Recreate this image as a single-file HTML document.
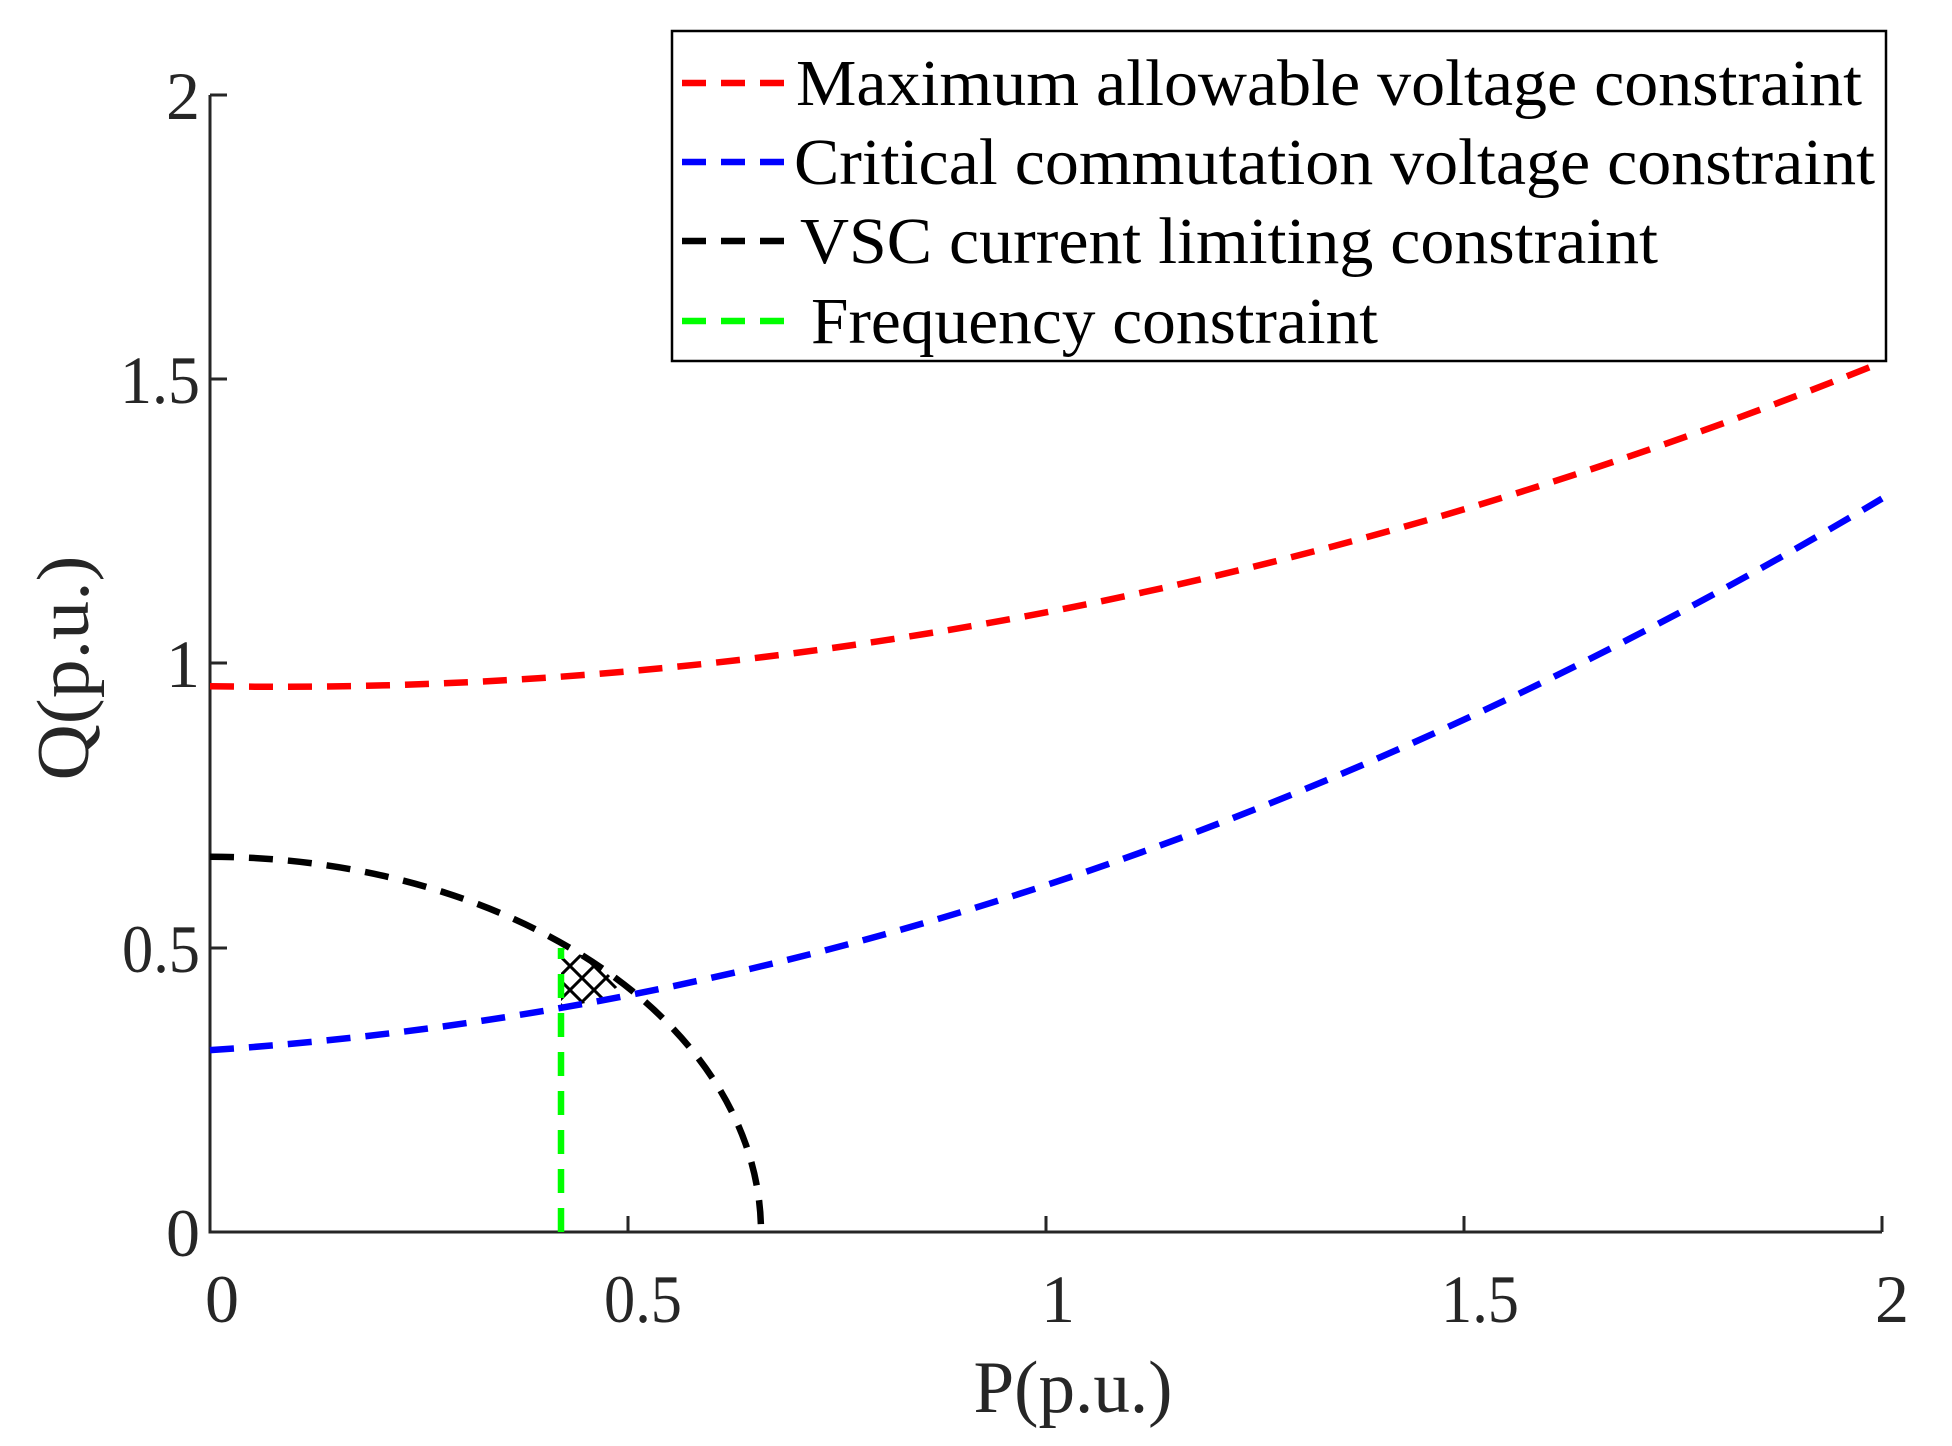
<!DOCTYPE html>
<html><head><meta charset="utf-8"><style>
html,body{margin:0;padding:0;background:#fff;}
svg{display:block;}
text{font-family:"Liberation Serif",serif;}
</style></head><body>
<svg width="1952" height="1446" viewBox="0 0 1952 1446" xmlns="http://www.w3.org/2000/svg">
<defs>
<clipPath id="hc"><polygon points="561,948 590,958 620,985 600,1000 561,1008"/></clipPath>
</defs>
<rect width="1952" height="1446" fill="#fff"/>
<g stroke="#262626" stroke-width="3" fill="none">
<path d="M210,95 V1232 H1882"/>
<path d="M628,1232 v-16 M1046,1232 v-16 M1464,1232 v-16 M1882,1232 v-16"/>
<path d="M210,95 h17 M210,379 h17 M210,663 h17 M210,948 h17"/>
</g>
<g clip-path="url(#hc)" stroke="#000" stroke-width="3">
<path d="M520,940 l90,90 M532,928 l90,90 M544,916 l90,90 M556,904 l90,90 M568,892 l90,90 M580,880 l90,90 M508,952 l90,90 M496,964 l90,90"/>
<path d="M520,1040 l90,-90 M532,1052 l90,-90 M544,1064 l90,-90 M556,1076 l90,-90 M568,1088 l90,-90 M508,1028 l90,-90 M496,1016 l90,-90 M484,1004 l90,-90"/>
</g>
<g fill="none" stroke-width="6.5" stroke-dasharray="24,15">
<path d="M210,686.2 Q1046,700.5 1882,362.2" stroke="#ff0000"/>
<path d="M210,1050.1 Q1046,996.1 1882,498.6" stroke="#0000ff"/>
<path d="M210,856.8 A551,375.2 0 0 1 761,1232" stroke="#000"/>
<path d="M561,1232 V948" stroke="#00ff00"/>
</g>
<g fill="#262626" font-size="68">
<text x="222" y="1322" text-anchor="middle">0</text>
<text x="643" y="1322" text-anchor="middle" textLength="78" lengthAdjust="spacingAndGlyphs">0.5</text>
<text x="1058" y="1322" text-anchor="middle">1</text>
<text x="1480" y="1322" text-anchor="middle" textLength="78" lengthAdjust="spacingAndGlyphs">1.5</text>
<text x="1892" y="1322" text-anchor="middle">2</text>
<text x="200" y="1256" text-anchor="end">0</text>
<text x="200" y="972" text-anchor="end" textLength="78" lengthAdjust="spacingAndGlyphs">0.5</text>
<text x="200" y="687" text-anchor="end">1</text>
<text x="200" y="403" text-anchor="end" textLength="80" lengthAdjust="spacingAndGlyphs">1.5</text>
<text x="200" y="119" text-anchor="end">2</text>
</g>
<text x="1073" y="1412" text-anchor="middle" font-size="74" fill="#262626" textLength="199" lengthAdjust="spacingAndGlyphs">P(p.u.)</text>
<text transform="translate(88,668) rotate(-90)" text-anchor="middle" font-size="74" fill="#262626" textLength="225" lengthAdjust="spacingAndGlyphs">Q(p.u.)</text>
<rect x="672" y="31" width="1214" height="330" fill="#fff" stroke="#000" stroke-width="2.5"/>
<g stroke-width="6.5" stroke-dasharray="24,15">
<path d="M682,83 H784" stroke="#ff0000"/>
<path d="M682,162 H784" stroke="#0000ff"/>
<path d="M682,241 H784" stroke="#000"/>
<path d="M682,321 H784" stroke="#00ff00"/>
</g>
<g font-size="66" fill="#000">
<text x="796" y="105" textLength="1066" lengthAdjust="spacingAndGlyphs">Maximum allowable voltage constraint</text>
<text x="794" y="184" textLength="1081" lengthAdjust="spacingAndGlyphs">Critical commutation voltage constraint</text>
<text x="800" y="263" textLength="858" lengthAdjust="spacingAndGlyphs">VSC current limiting constraint</text>
<text x="811" y="343" textLength="567" lengthAdjust="spacingAndGlyphs">Frequency constraint</text>
</g>
</svg>
</body></html>
